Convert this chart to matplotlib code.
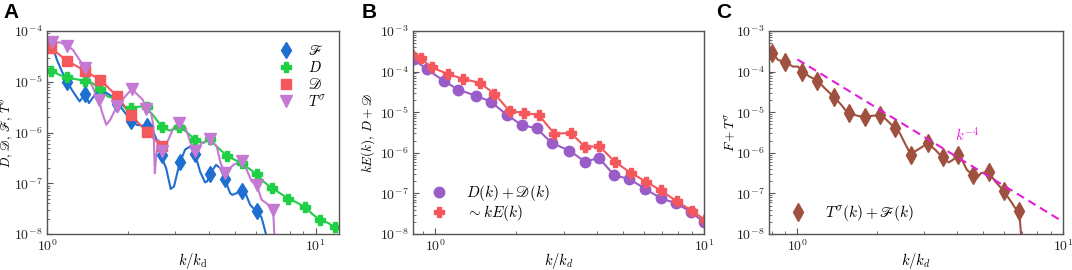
import numpy as np
import matplotlib
matplotlib.use('Agg')
import matplotlib.pyplot as plt
from matplotlib.ticker import LogLocator, FuncFormatter, NullFormatter

plt.rcParams['mathtext.fontset'] = 'cm'
plt.rcParams['font.family'] = ['DejaVu Sans']

# ---------------- Panel A ----------------
kF_line = [1.000, 1.038, 1.089, 1.137, 1.190, 1.238, 1.322, 1.388, 1.432, 1.490, 1.560, 1.637,
           1.758, 1.914, 2.056, 2.159, 2.352, 2.475, 2.583, 2.658, 2.774, 2.886, 2.970, 3.083,
           3.128, 3.264, 3.407, 3.554, 3.711, 3.873, 3.950, 4.043, 4.254, 4.404, 4.594, 4.798,
           4.890, 5.080, 5.297, 5.408, 5.534, 5.694, 5.859, 6.056, 6.286, 6.560]
F_line = [7.7e-5, 5.7e-5, 2.7e-5, 1.58e-5, 1.0e-5, 6.9e-6, 4.1e-6, 5.8e-6, 3.8e-6, 5.1e-6, 5.7e-6, 6.4e-6,
          5.0e-6, 2.8e-6, 1.7e-6, 1.42e-6, 1.31e-6, 1.13e-6, 6.2e-7, 3.4e-7, 2.0e-7, 7.7e-8, 8.7e-8, 2.0e-7,
          2.6e-7, 4.6e-7, 5.3e-7, 3.8e-7, 1.7e-7, 1.04e-7, 1.1e-7, 1.54e-7, 2.3e-7, 2.0e-7, 1.2e-7, 6.4e-8,
          5.9e-8, 6.4e-8, 6.9e-8, 8.0e-8, 5.5e-8, 3.8e-8, 3.2e-8, 2.9e-8, 2.1e-8, 9e-9]
kF_mark = [1.038, 1.190, 1.388, 1.578, 1.819, 2.062, 2.352, 2.680, 3.128, 3.554, 4.043, 4.594, 5.297, 6.056]
F_mark = [5.5e-5, 1.0e-5, 5.8e-6, 5.7e-6, 3.6e-6, 1.7e-6, 1.35e-6, 3.6e-7, 2.6e-7, 3.8e-7, 1.54e-7, 1.2e-7, 6.9e-8, 2.9e-8]

kD_line = [1.000, 1.038, 1.114, 1.190, 1.285, 1.388, 1.481, 1.578, 1.685, 1.819, 1.970, 2.062, 2.208,
           2.337, 2.475, 2.680, 2.854, 3.088, 3.290, 3.554, 3.819, 4.043, 4.280, 4.663, 4.937, 5.297,
           5.612, 6.028, 6.382, 6.853, 7.35, 7.90, 8.48, 9.10, 9.77, 10.35, 11.11, 11.77, 12.28]
D_line = [1.84e-5, 1.66e-5, 1.36e-5, 1.23e-5, 1.12e-5, 1.04e-5, 9.3e-6, 7.1e-6, 5.1e-6, 4.6e-6, 2.88e-6, 3.01e-6, 3.25e-6,
          3.15e-6, 2.23e-6, 1.27e-6, 1.09e-6, 1.27e-6, 1.05e-6, 7.2e-7, 6.2e-7, 7.4e-7, 5.3e-7, 3.48e-7, 2.99e-7, 2.49e-7,
          1.99e-7, 1.52e-7, 1.09e-7, 8.0e-8, 6.4e-8, 5.0e-8, 4.2e-8, 3.4e-8, 2.4e-8, 1.91e-8, 1.65e-8, 1.37e-8, 1.22e-8]
kD_mark = [1.038, 1.190, 1.388, 1.578, 1.819, 2.062, 2.352, 2.680, 3.088, 3.554, 4.043, 4.663, 5.297,
           6.028, 6.853, 7.90, 9.10, 10.35, 11.77]
D_mark = [1.66e-5, 1.23e-5, 1.04e-5, 7.1e-6, 4.6e-6, 3.01e-6, 3.15e-6, 1.27e-6, 1.27e-6, 7.2e-7, 7.4e-7, 3.48e-7,
          2.49e-7, 1.52e-7, 8.0e-8, 5.0e-8, 3.4e-8, 1.91e-8, 1.37e-8]

kDs_line = [1.000, 1.038, 1.190, 1.388, 1.578, 1.819, 2.062, 2.352, 2.680]
Ds_line = [5.5e-5, 4.56e-5, 2.57e-5, 1.63e-5, 1.09e-5, 5.26e-6, 2.19e-6, 1.02e-6, 5.3e-7]
kDs_mark = kDs_line[1:]
Ds_mark = Ds_line[1:]

kT_line = [1.000, 1.047, 1.121, 1.190, 1.249, 1.322, 1.388, 1.440, 1.512, 1.560, 1.600, 1.661, 1.718,
           1.824, 1.926, 2.068, 2.177, 2.272, 2.337, 2.440, 2.490, 2.518, 2.547, 2.597, 2.680, 2.790,
           2.954, 3.088, 3.264, 3.407, 3.554, 3.763, 4.043, 4.280, 4.426, 4.594, 4.937, 5.297, 5.534,
           5.770, 6.028, 6.286, 6.653, 6.944, 7.02]
T_line = [6.86e-5, 6.17e-5, 5.9e-5, 5.15e-5, 4.23e-5, 2.69e-5, 1.84e-5, 1.09e-5, 5.94e-6, 4.4e-6, 2.59e-6, 1.42e-6, 1.77e-6,
          3.35e-6, 4.74e-6, 7.12e-6, 5.5e-6, 4.4e-6, 2.96e-6, 2.40e-6, 1.31e-6, 1.58e-7, 3.37e-7, 7.17e-7, 4.23e-7, 6.17e-7,
          1.22e-6, 1.53e-6, 1.31e-6, 6.65e-7, 4.23e-7, 6.17e-7, 7.4e-7, 5.3e-7, 2.49e-7, 1.58e-7, 2.31e-7, 2.69e-7, 1.84e-7,
          1.09e-7, 9.3e-8, 4.74e-8, 3.78e-8, 3.01e-8, 8e-9]
kT_mark = [1.047, 1.190, 1.388, 1.560, 1.824, 2.068, 2.337, 2.680, 3.088, 3.554, 4.043, 4.594, 5.297, 6.028, 6.944]
T_mark = [6.17e-5, 5.15e-5, 1.84e-5, 4.4e-6, 3.35e-6, 7.12e-6, 2.96e-6, 4.23e-7, 1.53e-6, 4.23e-7, 7.4e-7,
          1.58e-7, 2.69e-7, 9.3e-8, 3.01e-8]

# ---------------- Panel B ----------------
kB_DD = [0.831, 0.931, 1.074, 1.214, 1.412, 1.606, 1.847, 2.094, 2.381, 2.715, 3.158, 3.611, 4.059,
         4.628, 5.277, 6.017, 6.902, 7.87, 8.95, 10.0]
B_DD = [2.0e-4, 1.13e-4, 6.0e-5, 3.6e-5, 2.57e-5, 1.83e-5, 8.6e-6, 4.84e-6, 4.0e-6, 1.74e-6, 1.13e-6, 6.0e-7, 7.55e-7,
        2.82e-7, 2.25e-7, 1.32e-7, 7.6e-8, 5.7e-8, 3.5e-8, 1.94e-8]
kB_kE = [0.82, 0.882, 0.969, 1.118, 1.267, 1.462, 1.657, 1.889, 2.142, 2.428, 2.770, 3.194, 3.611, 4.083,
         4.668, 5.339, 6.07, 6.92, 7.91, 9.0, 10.09]
B_kE = [2.6e-4, 2.11e-4, 1.27e-4, 8.65e-5, 6.64e-5, 5.28e-5, 2.88e-5, 1.07e-5, 9.6e-6, 8.55e-6, 2.96e-6, 3.07e-6,
        1.39e-6, 1.45e-6, 5.9e-7, 3.22e-7, 1.96e-7, 1.18e-7, 6.4e-8, 3.77e-8, 2.22e-8]

# ---------------- Panel C ----------------
kC_line = [0.775, 0.803, 0.846, 0.901, 0.963, 1.006, 1.041, 1.113, 1.190, 1.268, 1.375, 1.465, 1.530, 1.566,
           1.693, 1.804, 1.901, 2.043, 2.134, 2.228, 2.327, 2.430, 2.538, 2.673, 2.768, 2.90, 3.099, 3.303,
           3.520, 3.708, 3.850, 4.009, 4.163, 4.347, 4.579, 4.742, 4.909, 5.246, 5.559, 5.976, 6.425, 6.61,
           6.845, 6.966]
C_line = [3.41e-4, 2.82e-4, 1.94e-4, 1.70e-4, 1.33e-4, 1.33e-4, 1.0e-4, 7.5e-5, 6.0e-5, 3.9e-5, 2.34e-5, 1.51e-5,
          1.04e-5, 9.45e-6, 8.1e-6, 7.8e-6, 8.1e-6, 8.6e-6, 7.1e-6, 5.4e-6, 4.05e-6, 3.05e-6, 1.73e-6, 8.9e-7,
          1.08e-6, 1.30e-6, 1.73e-6, 1.19e-6, 7.7e-7, 5.8e-7, 6.7e-7, 8.6e-7, 6.7e-7, 3.82e-7, 2.77e-7, 2.38e-7,
          3.16e-7, 3.35e-7, 1.97e-7, 1.16e-7, 5.8e-8, 4.35e-8, 3.6e-8, 8e-9]
kC_mark = [0.803, 0.901, 1.041, 1.190, 1.375, 1.566, 1.804, 2.043, 2.327, 2.673, 3.099, 3.520, 4.009, 4.579,
           5.246, 5.976, 6.845]
C_mark = [2.82e-4, 1.70e-4, 1.0e-4, 6.0e-5, 2.34e-5, 9.45e-6, 7.8e-6, 8.6e-6, 4.05e-6, 8.9e-7, 1.73e-6, 7.7e-7,
          8.6e-7, 2.77e-7, 3.35e-7, 1.16e-7, 3.6e-8]
k_ref = np.array([1.0, 10.0])
ref_amp = 2.0e-4
ref_exp = -4

# ---------------- colours ----------------
c_blue = '#1f6fd0'
c_green = '#1fcf45'
c_red = '#f4585c'
c_pink = '#c47ad2'
c_purple = '#9a5cc6'
c_brown = '#a0503f'
c_mag = '#e21fd6'
spine_c = '#555555'

fig = plt.figure(figsize=(10.72, 2.70), dpi=100)
H = 270.0
W = 1072.0
def add_axes(l, r, t, b):
    return fig.add_axes([l / W, 1 - b / H, (r - l) / W, (b - t) / H])

axA = add_axes(47, 339, 31, 234)
axB = add_axes(413, 704, 31, 234)
axC = add_axes(769, 1063, 31, 234)

def style(ax, xlim, ylim):
    ax.set_xscale('log')
    ax.set_yscale('log')
    ax.set_xlim(*xlim)
    ax.set_ylim(*ylim)
    for s in ax.spines.values():
        s.set_color(spine_c)
        s.set_linewidth(1.0)
    fmt = FuncFormatter(lambda v, p: r'$\mathrm{10^{%d}}$' % int(round(np.log10(v))))
    ax.xaxis.set_major_formatter(fmt)
    ax.yaxis.set_major_formatter(fmt)
    ax.xaxis.set_minor_formatter(NullFormatter())
    ax.yaxis.set_minor_formatter(NullFormatter())
    ax.yaxis.set_major_locator(LogLocator(base=10, numticks=10))
    ax.yaxis.set_minor_locator(LogLocator(base=10, subs=np.arange(2, 10), numticks=20))
    ax.tick_params(which='both', direction='in', top=False, right=False, colors=spine_c,
                   labelcolor='#222222', labelsize=10)
    ax.tick_params(which='major', length=4, width=0.8, pad=3)
    ax.tick_params(which='minor', length=2.5, width=0.6)

def labels(ax, xl, yl, ysize, yx):
    ax.set_xlabel(xl, fontsize=10.5)
    ax.xaxis.set_label_coords(0.5, -0.085)
    ax.set_ylabel(yl, fontsize=ysize)
    ax.yaxis.set_label_coords(yx, 0.5)

# Panel A
style(axA, (1.0, 12.2), (1e-8, 1e-4))
axA.plot(kF_line, F_line, color=c_blue, lw=1.5)
axA.plot(kD_line, D_line, color=c_green, lw=1.5)
axA.plot(kDs_line, Ds_line, color=c_red, lw=1.5)
axA.plot(kT_line, T_line, color=c_pink, lw=1.5)
axA.plot(kF_mark, F_mark, 'd', color=c_blue, ms=8, ls='none', label=r'$\mathscr{F}$')
axA.plot(kD_mark, D_mark, 'P', color=c_green, ms=7.5, ls='none', label=r'$D$')
axA.plot(kDs_mark, Ds_mark, 's', color=c_red, ms=7, ls='none', label=r'$\mathscr{D}$')
axA.plot(kT_mark, T_mark, 'v', color=c_pink, ms=8, ls='none', label=r'$T^{\sigma}$')
axA.legend(loc='upper right', bbox_to_anchor=(0.99, 0.99), frameon=False, fontsize=10.5,
           handlelength=1.2, handletextpad=0.9, labelspacing=0.12, borderaxespad=0.3)
labels(axA, r'$k/k_\mathrm{d}$', r'$D,\,\mathscr{D},\,\mathscr{F},\,T^{\sigma}$', 9, -0.105)

# Panel B
style(axB, (0.826, 10.0), (1e-8, 1e-3))
axB.plot(kB_DD, B_DD, '-o', color=c_purple, lw=1.5, ms=7.5, label=r'$D(k)+\mathscr{D}(k)$')
axB.plot(kB_kE, B_kE, '-P', color=c_red, lw=1.5, ms=7.5, label=r'$\sim kE(k)$')
axB.legend(loc='lower left', bbox_to_anchor=(0.0, 0.0), frameon=False, fontsize=11,
           handlelength=2.0, handletextpad=0.8, labelspacing=0.0, borderaxespad=0.3)
for h in axB.get_legend().legend_handles:
    h.set_linestyle('none')
labels(axB, r'$k/k_d$', r'$kE(k),\,D+\mathscr{D}$', 9.5, -0.125)

# Panel C
style(axC, (0.782, 10.0), (1e-8, 1e-3))
axC.plot(kC_line, C_line, color=c_brown, lw=1.5)
axC.plot(kC_mark, C_mark, 'd', color=c_brown, ms=9, ls='none', label=r'$T^{\sigma}(k)+\mathscr{F}(k)$')
axC.plot(k_ref, ref_amp * k_ref ** ref_exp, '--', color=c_mag, lw=1.5, dashes=(4, 2.5))
axC.text(4.35, 2.8e-6, r'$k^{-4}$', color=c_mag, fontsize=10.5, ha='center', va='center')
axC.legend(loc='lower left', bbox_to_anchor=(0.01, 0.0), frameon=False, fontsize=11,
           handlelength=2.0, handletextpad=0.8, borderaxespad=0.3)
labels(axC, r'$k/k_d$', r'$F+T^{\sigma}$', 9.5, -0.105)

for lab, x in (('A', 3), ('B', 362), ('C', 716)):
    fig.text(x / W, 1 - 3 / H, lab, fontsize=15, fontweight='bold', family='Liberation Sans',
             ha='left', va='top')

fig.savefig('out.png', dpi=100)
